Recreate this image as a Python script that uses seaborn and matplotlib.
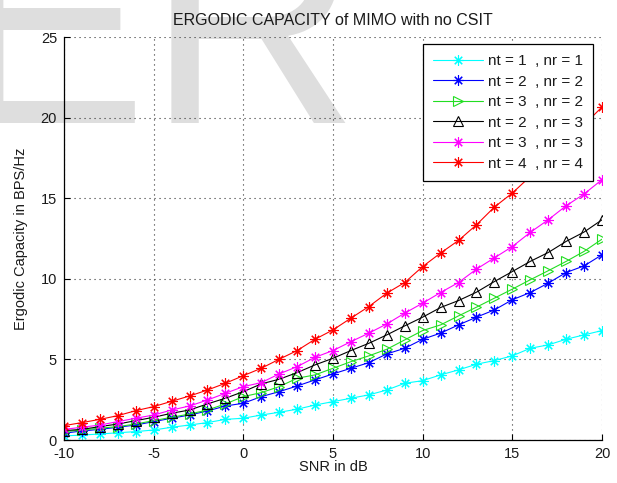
import numpy as np
import pandas as pd
import matplotlib
matplotlib.use("Agg")
import matplotlib.pyplot as plt
import seaborn as sns

# ---------------- data ----------------
snr = list(range(-10, 21))

cap_1x1 = [0.25, 0.31, 0.37, 0.45, 0.52, 0.62, 0.79, 0.93, 1.08, 1.28, 1.35,
           1.55, 1.72, 1.91, 2.17, 2.38, 2.59, 2.80, 3.10, 3.52, 3.68,
           4.04, 4.35, 4.70, 4.93, 5.22, 5.69, 5.90, 6.25, 6.52, 6.79]
cap_2x2 = [0.42, 0.56, 0.66, 0.79, 0.93, 1.14, 1.35, 1.55, 1.80, 2.11, 2.28,
           2.69, 3.00, 3.35, 3.73, 4.10, 4.45, 4.80, 5.34, 5.69, 6.25,
           6.63, 7.14, 7.62, 8.07, 8.70, 9.15, 9.73, 10.39, 10.80, 11.49]
cap_3x2 = [0.52, 0.62, 0.73, 0.83, 0.99, 1.20, 1.41, 1.61, 1.86, 2.24, 2.69,
           2.94, 3.31, 3.83, 4.04, 4.45, 4.86, 5.22, 5.63, 6.21, 6.79,
           7.14, 7.70, 8.24, 8.80, 9.36, 9.94, 10.50, 11.08, 11.70, 12.46]
cap_2x3 = [0.58, 0.66, 0.83, 0.99, 1.20, 1.41, 1.66, 1.86, 2.24, 2.59, 3.00,
           3.48, 3.77, 4.18, 4.66, 5.07, 5.55, 6.00, 6.52, 7.08, 7.62,
           8.22, 8.65, 9.17, 9.83, 10.45, 11.08, 11.63, 12.32, 12.90, 13.66]
cap_3x3 = [0.66, 0.79, 0.93, 1.14, 1.35, 1.55, 1.86, 2.11, 2.48, 2.90, 3.31,
           3.56, 4.10, 4.55, 5.13, 5.55, 6.10, 6.63, 7.20, 7.87, 8.49,
           9.15, 9.77, 10.60, 11.30, 12.00, 12.88, 13.66, 14.53, 15.26, 16.15]
cap_4x4 = [0.89, 1.08, 1.28, 1.51, 1.82, 2.07, 2.40, 2.73, 3.10, 3.52, 3.99,
           4.45, 5.01, 5.55, 6.25, 6.83, 7.56, 8.28, 9.11, 9.77, 10.76,
           11.60, 12.38, 13.35, 14.45, 15.32, 16.35, 17.40, 18.50, 19.55, 20.66]

labels = ["nt = 1  , nr = 1", "nt = 2  , nr = 2", "nt = 3  , nr = 2",
          "nt = 2  , nr = 3", "nt = 3  , nr = 3", "nt = 4  , nr = 4"]
series = [cap_1x1, cap_2x2, cap_3x2, cap_2x3, cap_3x3, cap_4x4]

xticks = [-10, -5, 0, 5, 10, 15, 20]
yticks = [0, 5, 10, 15, 20, 25]

title = "ERGODIC CAPACITY of MIMO with no CSIT"
xlabel = "SNR in dB"
ylabel = "Ergodic Capacity in BPS/Hz"

# ---------------- styling ----------------
sns.set_theme(style="white")
plt.rcParams["font.family"] = ["Liberation Sans", "DejaVu Sans"]
plt.rcParams["font.size"] = 10

asterisk = (8, 2, 0)
styles = [
    dict(color="#00ffff", marker=asterisk, mfc="#00ffff", mec="#00ffff", ms=7.5),
    dict(color="#0000ff", marker=asterisk, mfc="#0000ff", mec="#0000ff", ms=7.5),
    dict(color="#22dd22", marker=">", mfc="none", mec="#22dd22", ms=7),
    dict(color="#000000", marker="^", mfc="none", mec="#000000", ms=7),
    dict(color="#ff00ff", marker=asterisk, mfc="#ff00ff", mec="#ff00ff", ms=7.5),
    dict(color="#ff0000", marker=asterisk, mfc="#ff0000", mec="#ff0000", ms=7.5),
]

fig = plt.figure(figsize=(6.17, 4.83), dpi=100, facecolor="white")

# watermark (behind everything)
wm = fig.text(-48 / 617, 360 / 483, "ER", fontsize=211, color="#dedede",
              family="Liberation Sans", ha="left", va="baseline")
wm.set_zorder(-10)

ax = fig.add_axes([64 / 617, 43 / 483, 538 / 617, 403 / 483])
ax.set_facecolor("none")
ax.set_zorder(1)

df = pd.DataFrame({"snr": snr})
for lab, vals, st in zip(labels, series, styles):
    df[lab] = vals
    sns.lineplot(data=df, x="snr", y=lab, ax=ax, label=lab,
                 color=st["color"], marker=st["marker"],
                 markerfacecolor=st["mfc"], markeredgecolor=st["mec"],
                 markersize=st["ms"], markeredgewidth=0.8, linewidth=0.8)

ax.set_xlim(-10, 20)
ax.set_ylim(0, 25)
ax.set_xticks(xticks)
ax.set_yticks(yticks)
ax.set_xticklabels([str(t) for t in xticks])
ax.set_yticklabels([str(t) for t in yticks])

ax.grid(True, color="#333333", linestyle=(0, (1, 3.5)), linewidth=0.8)
ax.set_axisbelow(True)
for side in ["top", "right"]:
    ax.spines[side].set_visible(False)
for side in ["left", "bottom"]:
    ax.spines[side].set_color("black")
    ax.spines[side].set_linewidth(0.9)

ax.tick_params(axis="both", direction="in", length=4, width=0.8,
               colors="black", labelsize=10.5, labelcolor="#1a1a1a",
               left=True, bottom=True, top=False, right=False)
ax.tick_params(axis="y", pad=5)
ax.tick_params(axis="x", pad=5)

ax.set_title(title, fontsize=11.5, color="#1a1a1a", pad=8.5)
ax.set_xlabel(xlabel, fontsize=10.5, color="#1a1a1a")
ax.set_ylabel(ylabel, fontsize=10.5, color="#1a1a1a")
ax.xaxis.set_label_coords(0.5, -0.05)
ax.yaxis.set_label_coords(-0.066, 0.5)

leg = ax.legend(loc="upper right", bbox_to_anchor=(0.983, 0.983),
                borderaxespad=0, frameon=True, fancybox=False,
                edgecolor="black", facecolor="white", framealpha=1,
                fontsize=11, handlelength=3.27, handletextpad=0.3,
                labelspacing=0.43, borderpad=0.66, numpoints=1)
leg.get_frame().set_linewidth(0.9)
leg.set_zorder(10)
for t in leg.get_texts():
    t.set_color("#1a1a1a")

fig.savefig("out.png", dpi=100, facecolor="white")
